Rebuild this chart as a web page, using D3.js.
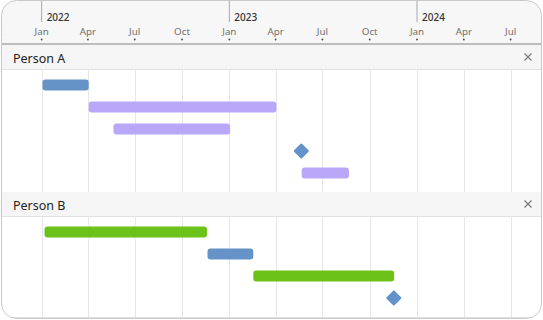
<!DOCTYPE html>
<html>
<head>
<meta charset="utf-8">
<script src="https://cdn.jsdelivr.net/npm/d3@7"></script>
<style>
  body { margin: 0; background: #fff; }
  svg { display: block; font-family: "Noto Sans", "Open Sans", sans-serif; }
</style>
</head>
<body>
<div id="chart"></div>
<script>
// chart size
const W = 543, H = 320;

// data
const groups = ["Person A", "Person B"];
const laneCounts = [5, 4];
const taskGroup = [0, 0, 0, 0, 0, 1, 1, 1, 1];
const taskLane = [0, 1, 2, 3, 4, 0, 1, 2, 3];
const taskStart = ["2022-01-01", "2022-04-01", "2022-05-19", "2023-05-20", "2023-05-20",
                   "2022-01-05", "2022-11-18", "2023-02-15", "2023-11-16"];
const taskEnd = ["2022-04-01", "2023-04-01", "2023-01-01", null, "2023-08-20",
                 "2022-11-17", "2023-02-15", "2023-11-16", null];
const taskType = ["blue", "purple", "purple", "milestone", "purple",
                  "green", "blue", "green", "milestone"];
const colors = { blue: "#6593c8", purple: "#b9a7fa", green: "#6cc218", milestone: "#6292c9" };

const parse = d3.timeParse("%Y-%m-%d");

const x = d3.scaleTime()
  .domain([parse("2021-10-12"), parse("2024-09-02")])
  .range([0, W]);

// vertical layout
const axisH = 44, headH = 24, laneH = 22, padTop = 5, padBottom = 8;
const groupTop = [];
let yy = axisH + 1;
laneCounts.forEach((n, i) => {
  groupTop.push(yy);
  yy += headH + padTop + n * laneH + padBottom;
});

function laneY(g, lane) {
  const y = d3.scaleLinear()
    .domain([0, 1])
    .range([groupTop[g] + headH + padTop + laneH / 2, groupTop[g] + headH + padTop + laneH * 1.5]);
  return y(lane);
}

const svg = d3.select("#chart").append("svg")
  .attr("width", W)
  .attr("height", H);

svg.append("clipPath").attr("id", "card")
  .append("rect")
  .attr("x", 1.5).attr("y", 0.5)
  .attr("width", 540).attr("height", 318)
  .attr("rx", 15);

const g = svg.append("g").attr("clip-path", "url(#card)");

g.append("rect")
  .attr("width", W).attr("height", H)
  .attr("fill", "#fff");

// timeline header
g.append("rect")
  .attr("width", W).attr("height", axisH)
  .attr("fill", "#f7f7f7");

// quarter ticks, including the one just left of the visible range
const months = d3.timeMonth.every(3).range(d3.timeMonth.offset(x.domain()[0], -3), x.domain()[1]);
const years = x.ticks(d3.timeYear.every(1));

g.selectAll("line.year")
  .data(years)
  .enter().append("line")
  .attr("class", "year")
  .attr("x1", d => x(d)).attr("x2", d => x(d))
  .attr("y1", 0).attr("y2", 22)
  .attr("stroke", "#a9a9a9");

g.selectAll("text.year")
  .data(years)
  .enter().append("text")
  .attr("class", "year")
  .attr("x", d => x(d) + 5)
  .attr("y", 21)
  .attr("font-size", 10)
  .attr("font-weight", 500)
  .attr("fill", "#333")
  .text(d3.timeFormat("%Y"));

g.selectAll("text.month")
  .data(months)
  .enter().append("text")
  .attr("class", "month")
  .attr("x", d => x(d))
  .attr("y", 35)
  .attr("text-anchor", "middle")
  .attr("font-size", 9.8)
  .attr("fill", "#6f6f6f")
  .text(d3.timeFormat("%b"));

g.selectAll("circle.tick")
  .data(months)
  .enter().append("circle")
  .attr("class", "tick")
  .attr("cx", d => x(d))
  .attr("cy", 39.5)
  .attr("r", 0.9)
  .attr("fill", "#444");

g.append("line")
  .attr("x1", 0).attr("x2", W)
  .attr("y1", axisH).attr("y2", axisH)
  .attr("stroke", "#bdbdbd")
  .attr("stroke-width", 2);

// groups
groups.forEach((name, gi) => {
  const top = groupTop[gi];
  const bodyTop = top + headH;
  const bodyBottom = bodyTop + padTop + laneCounts[gi] * laneH + padBottom;

  g.selectAll("line.grid" + gi)
    .data(months)
    .enter().append("line")
    .attr("x1", d => Math.round(x(d)) + 0.5).attr("x2", d => Math.round(x(d)) + 0.5)
    .attr("y1", bodyTop).attr("y2", bodyBottom)
    .attr("stroke", "#e7e7e7");

  g.append("rect")
    .attr("x", 0).attr("y", top)
    .attr("width", W).attr("height", headH)
    .attr("fill", "#f5f5f5");

  g.append("line")
    .attr("x1", 0).attr("x2", W)
    .attr("y1", top + headH + 0.5).attr("y2", top + headH + 0.5)
    .attr("stroke", "#e2e2e2");

  g.append("line")
    .attr("x1", 0).attr("x2", W)
    .attr("y1", bodyBottom + 0.5).attr("y2", bodyBottom + 0.5)
    .attr("stroke", "#e2e2e2");

  g.append("text")
    .attr("x", 13)
    .attr("y", top + 17.5)
    .attr("font-size", 12.5)
    .attr("fill", "#222")
    .text(name);

  // close cross
  const cx = 528, cy = top + 12;
  g.append("path")
    .attr("d", `M${cx - 3.5},${cy - 3.5}L${cx + 3.5},${cy + 3.5}M${cx + 3.5},${cy - 3.5}L${cx - 3.5},${cy + 3.5}`)
    .attr("stroke", "#777")
    .attr("stroke-width", 1.1);
});

// tasks
const tasks = taskStart.map((s, i) => ({
  group: taskGroup[i],
  lane: taskLane[i],
  start: parse(s),
  end: taskEnd[i] ? parse(taskEnd[i]) : null,
  type: taskType[i]
}));

const barH = 11;

g.selectAll("rect.bar")
  .data(tasks.filter(d => d.end))
  .enter().append("rect")
  .attr("class", "bar")
  .attr("x", d => x(d.start) + 0.8)
  .attr("y", d => laneY(d.group, d.lane) - barH / 2)
  .attr("width", d => x(d.end) - x(d.start))
  .attr("height", barH)
  .attr("rx", 3)
  .attr("fill", d => colors[d.type]);

g.selectAll("rect.milestone")
  .data(tasks.filter(d => !d.end))
  .enter().append("rect")
  .attr("class", "milestone")
  .attr("x", -5.6).attr("y", -5.6)
  .attr("width", 11.2).attr("height", 11.2)
  .attr("rx", 1)
  .attr("transform", d => `translate(${x(d.start) + 0.5},${laneY(d.group, d.lane)}) rotate(45)`)
  .attr("fill", colors.milestone);

// card border
svg.append("rect")
  .attr("x", 1.5).attr("y", 0.5)
  .attr("width", 540).attr("height", 318)
  .attr("rx", 15)
  .attr("fill", "none")
  .attr("stroke", "#c9c9c9");
</script>
</body>
</html>
